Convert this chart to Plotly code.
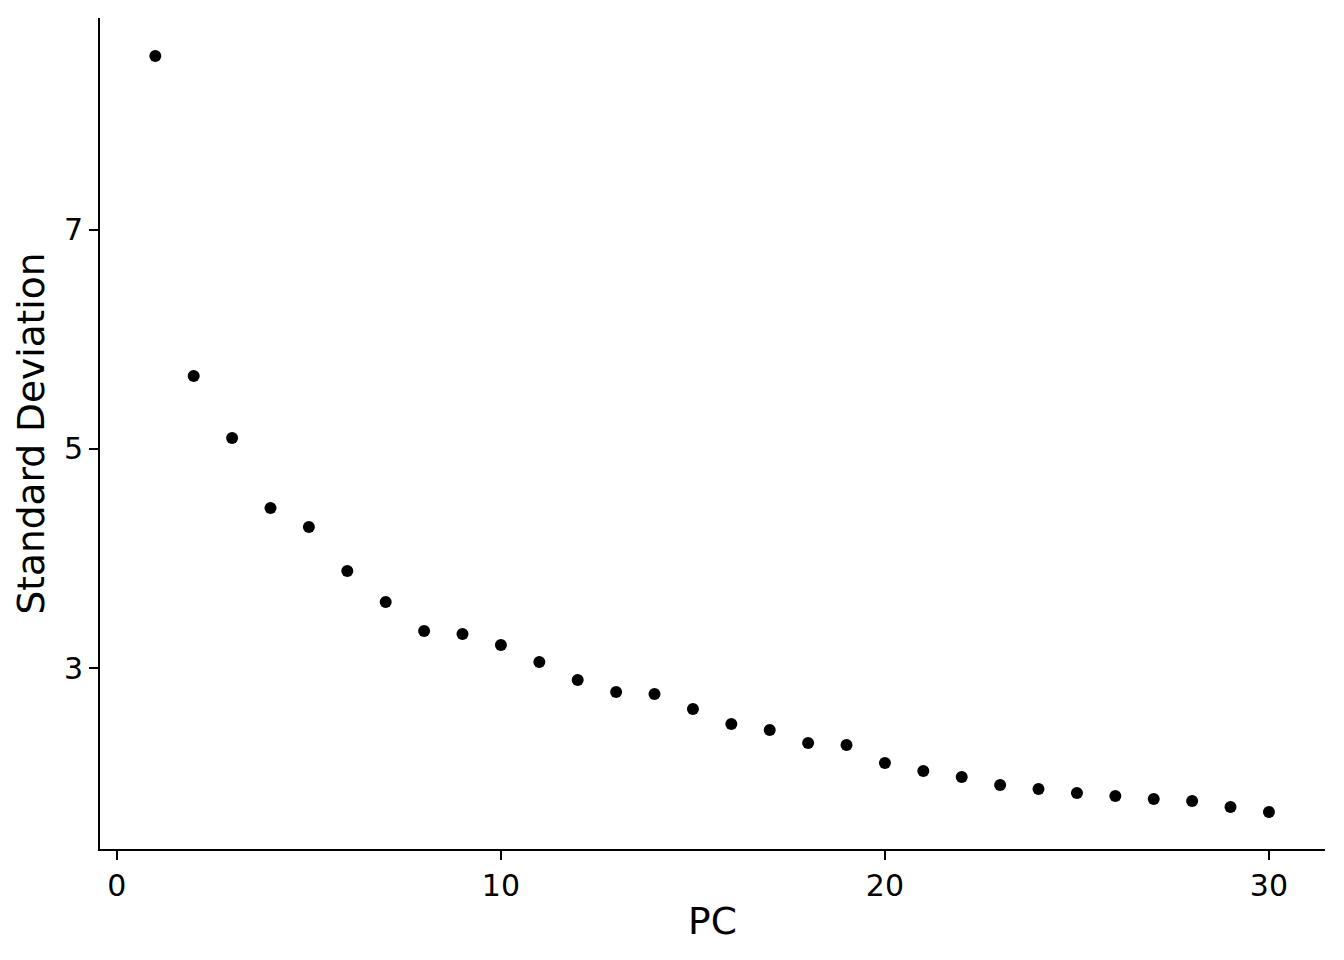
import plotly.graph_objects as go

pcs = list(range(1, 31))
std_dev = [8.589, 5.667, 5.100, 4.461, 4.288, 3.886, 3.603, 3.338, 3.311, 3.210,
           3.055, 2.890, 2.781, 2.763, 2.626, 2.489, 2.434, 2.315, 2.297, 2.132,
           2.059, 2.005, 1.932, 1.895, 1.858, 1.831, 1.804, 1.785, 1.731, 1.685]
x_ticks = [0, 10, 20, 30]
y_ticks = [3, 5, 7]

fig = go.Figure(go.Scatter(x=pcs, y=std_dev, mode="markers",
                           marker=dict(color="black", size=12)))

font = "DejaVu Sans"
axis_common = dict(showline=True, linecolor="black", linewidth=2,
                   ticks="outside", ticklen=9, tickwidth=2, tickcolor="black",
                   showgrid=False, zeroline=False,
                   tickfont=dict(family=font, size=30, color="black"))
fig.update_xaxes(range=[-0.44, 31.46], tickvals=x_ticks,
                 title=dict(text="PC", font=dict(family=font, size=37.5, color="black"), standoff=6),
                 **axis_common)
fig.update_yaxes(range=[1.347, 8.936], tickvals=y_ticks,
                 title=dict(text="Standard Deviation", font=dict(family=font, size=37.5, color="black"), standoff=8),
                 **axis_common)
fig.update_layout(width=1344, height=960, plot_bgcolor="white", paper_bgcolor="white",
                  margin=dict(l=92, r=27, t=10, b=119), showlegend=False)
fig.write_html("out.html")
